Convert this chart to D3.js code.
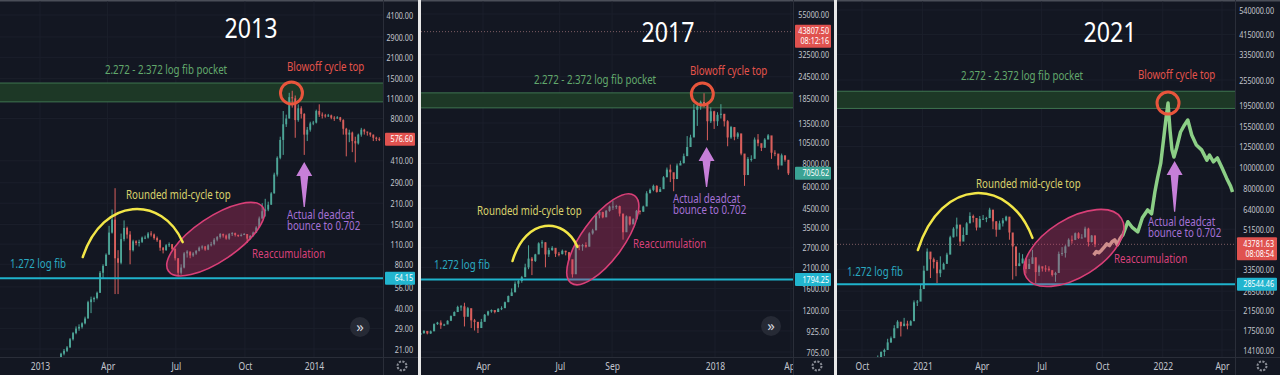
<!DOCTYPE html>
<html><head><meta charset="utf-8">
<script src="https://cdn.jsdelivr.net/npm/d3@7/dist/d3.min.js"></script>
<style>html,body{margin:0;padding:0;background:#131722;overflow:hidden}svg{display:block}</style>
</head><body>
<svg id="chart" width="1280" height="375"></svg>
<script>
// ================= DATA =================
// ---- 2013 cycle (4-day candles starting 2013-01-25) ----
const p1Start = "2013-01-25", p1StepDays = 4, p1FirstOpen = 17;
const p1Close = [17.5,19.5,20.4,21.5,24.5,27,29,29.8,31.5,34,
 44,46,47,51,70,78,93,132,162,88,
 82,119,142,128,100,115,112,114,122,122,
 130,128,121,117,104,100,108,110,102,88,
 70,76,95,98,92,95,99,104,106,101,
 108,110,118,123,129,126,120,129,131,127,
 126,127,129,120,125,132,143,165,185,190,
 205,245,330,430,570,730,800,1120,1100,780,
 940,860,620,670,740,750,900,850,840,830,
 840,810,800,815,780,680,620,640,560,540,
 620,670,650,640,620,590,580,577];
const p1High = [18,19.8,21,22,25,27.5,30,31,32,35,
 45,48,48,52,72,80,95,147,190,266,
 100,130,160,145,135,118,117,118,124,126,
 133,135,130,124,118,105,110,113,110,103,
 88,80,97,100,96,97,100,106,108,107,
 110,114,121,125,131,130,128,131,133,132,
 128,130,131,129,127,134,146,170,210,225,
 215,250,340,440,600,900,850,1200,1240,1150,
 1000,970,870,700,760,770,920,1000,880,860,
 860,850,830,830,820,790,690,670,650,600,
 630,690,680,650,640,620,600,595];
const p1Low = [16.5,17.3,19,20,21.5,24,26.5,28,29,31,
 34,37,44,46,51,64,78,95,130,50,
 50,80,115,120,80,98,108,106,112,119,
 120,124,118,114,99,95,99,105,100,85,
 66,68,75,89,88,90,93,98,101,99,
 100,106,108,115,120,122,118,118,125,124,
 123,124,127,112,118,124,131,142,164,170,
 185,205,245,320,420,450,700,800,950,590,
 760,800,450,560,650,720,740,820,800,810,
 820,790,770,795,760,620,440,550,470,400,
 530,600,620,610,600,560,560,560];
const p1PriceTicks = [4100,2900,2100,1500,1100,800,410,290,210,150,110,80,56,40,29,21];
const p1TimeTicks = ["2013-01-01","2013-04-01","2013-07-01","2013-10-01","2014-01-01"];
const p1TimeLabels = ["2013","Apr","Jul","Oct","2014"];
const p1FibPocket = [1040, 1400];
const p1FibLine = 64.15;
const p1LastPrice = 576.60;

// ---- 2017 cycle (4-day candles starting 2017-01-17) ----
const p2Start = "2017-01-17", p2StepDays = 4, p2FirstOpen = 880;
const p2Close = [900,925,895,920,1010,1030,995,1005,1055,1120,
 1180,1260,1270,1110,1240,1060,1040,960,1040,1140,
 1190,1210,1180,1230,1240,1340,1450,1520,1700,1760,
 1850,2100,2350,2280,2480,2860,2900,2480,2620,2700,
 2500,2490,2600,2550,2330,1920,2800,2750,2800,2740,
 3250,3380,4100,4280,4000,4350,4600,4600,4620,4200,
 3300,4050,3650,3900,4350,4300,4600,5450,5700,6000,
 5550,5750,6700,7400,7150,6550,7800,8050,8800,9900,
 11200,16000,16700,17700,17100,13800,15700,13800,15000,15200,
 13800,11200,12800,11300,11800,9100,6900,8500,8500,10900,
 10400,9800,10900,11500,9200,9100,7800,8900,8400,7050];
const p2High = [910,935,925,930,1020,1040,1060,1015,1060,1130,
 1190,1280,1290,1330,1260,1150,1080,1000,1080,1150,
 1200,1220,1210,1240,1270,1350,1460,1600,1750,1800,
 1880,2200,2790,2400,2500,2900,2980,2900,2700,2760,
 2650,2560,2640,2600,2560,2250,2900,2820,2840,2900,
 3300,3450,4200,4400,4300,4400,4650,4950,4700,4650,
 4000,4100,4000,3950,4400,4380,4650,5600,5800,6100,
 6050,5900,6800,7600,7900,6700,8000,8300,9100,11400,
 11600,17200,17400,18000,19800,17000,16500,15800,15500,17200,
 15000,14000,13000,12800,12000,10300,8400,8700,8900,11200,
 11700,10000,11100,11700,10700,9500,8600,9100,8800,8000];
const p2Low = [880,890,885,890,950,1000,950,985,1030,1050,
 1130,1180,1200,980,1180,960,930,900,1010,1060,
 1120,1170,1160,1190,1210,1260,1340,1460,1550,1620,
 1720,1900,2050,1900,2250,2500,2700,2100,2400,2600,
 2400,2420,2480,2450,2300,1840,2250,2620,2600,2700,
 2750,3200,3500,3950,3950,4100,4300,4400,4450,4050,
 3000,3600,3600,3700,3900,4150,4300,4800,5550,5600,
 5500,5700,6100,6900,6300,5600,6900,7900,8000,9000,
 10000,11500,13000,16000,16500,10800,13500,12500,13000,14300,
 12900,10000,11000,10800,11000,8900,6000,7600,8200,9500,
 10000,9400,10300,11000,8500,8800,7400,8300,8200,6900];
const p2PriceTicks = [55000,32500,24500,18500,13500,10500,8000,6000,4500,3500,2700,2100,1600,1200,925,705];
const p2TimeTicks = ["2017-04-01","2017-07-01","2017-09-01","2018-01-01","2018-04-01"];
const p2TimeLabels = ["Apr","Jul","Sep","2018","Apr"];
const p2FibPocket = [16400, 19900];
const p2FibLine = 1794.25;
const p2LastPrice = 7050.62;
const p2LivePrice = 43807.50;

// ---- 2021 cycle (5-day candles starting 2020-10-25) + fractal projection ----
const p3Start = "2020-10-25", p3StepDays = 5, p3FirstOpen = 12900;
const p3Close = [13000,13800,14100,15300,16000,17800,19100,18200,18700,18300,
 19200,23500,23700,27100,33000,40500,37300,36200,32100,33400,
 35500,39200,47200,51800,54100,45100,48400,54800,59300,58100,
 52400,57500,57600,58000,63500,56000,51200,54800,56600,58900,
 49700,42800,34700,35700,37600,33600,35500,38100,32500,34600,
 33800,33700,33200,31500,32200,39500,39900,42800,46000,45900,
 49300,46800,47100,51800,44900,48100,43800];
const p3High = [13300,13900,14300,15900,16300,18400,19400,19000,19900,19300,
 19400,24000,24100,28400,34800,41900,40000,38000,37000,38500,
 36000,40000,48000,52600,58300,50000,52500,55500,61700,60200,
 58000,59300,60000,58800,64800,63000,56200,56400,58000,59500,
 58000,46600,40800,40000,39400,37000,37400,41300,35000,35200,
 34000,35000,34600,32400,32600,40500,42500,43400,46700,48100,
 49700,49800,48800,52900,52300,48400,48200];
const p3Low = [12800,12900,13200,14800,15200,17200,18000,16300,18600,17600,
 18800,21000,22600,26000,28900,36000,30500,33800,28900,30800,
 33500,37500,44000,47200,47600,43000,46400,49300,57000,55400,
 50800,54800,57000,55500,59800,51500,47500,52000,53000,56000,
 46000,30000,31100,34600,35700,32000,34600,35700,28800,31200,
 32700,32600,32700,31000,29300,35000,38700,38000,42800,44100,
 45800,46400,46700,49600,42800,44700,42500];
const p3GhostDates = ["2021-09-18","2021-09-22","2021-09-26","2021-09-30","2021-10-04","2021-10-08",
 "2021-10-12","2021-10-16","2021-10-20","2021-10-24","2021-10-28","2021-11-01"];
const p3GhostValues = [39000,40500,40000,41100,42500,44000,43200,45000,45900,43500,46500,48400];
const p3ProjDates = ["2021-11-01","2021-11-09","2021-11-16","2021-11-24","2021-12-01","2021-12-09",
 "2021-12-15","2021-12-20","2021-12-24","2021-12-29","2022-01-03","2022-01-06","2022-01-09",
 "2022-01-12","2022-01-15","2022-01-18","2022-01-22","2022-01-28","2022-02-03","2022-02-08",
 "2022-02-14","2022-02-21","2022-03-01","2022-03-09","2022-03-13","2022-03-19","2022-03-25",
 "2022-04-01","2022-04-08","2022-04-14","2022-04-17"];
const p3ProjValues = [48000,55800,52300,50000,58200,63300,60700,76700,89000,104800,141400,169600,199000,
 149000,120500,111600,123000,146000,157400,166000,141400,127000,120500,108000,114000,106000,110500,
 99400,89000,81700,76700];
const p3PriceTicks = [540000,415000,335000,255000,195000,155000,125000,100000,80000,64000,51500,33500,26500,21500,17500,14100];
const p3TimeTicks = ["2020-10-01","2021-01-01","2021-04-01","2021-07-01","2021-10-01","2022-01-01","2022-04-01"];
const p3TimeLabels = ["Oct","2021","Apr","Jul","Oct","2022","Apr"];
const p3FibPocket = [188000, 226000];
const p3FibLine = 28544.46;
const p3LivePrice = 43781.63;

// ================= STYLE =================
const BG = "#131722", GRID = "#1b1f2b", AXISLINE = "#2a2e39", AXTXT = "#c3c6ce";
const UP = "#4da597", DN = "#d95f5c";
const RED = "#e0524f", CYAN = "#22b5cf", TEAL = "#3aa394";
const FONT = "'Noto Sans','Open Sans',sans-serif";
const parse = d3.utcParse("%Y-%m-%d");
const DAY = 864e5;
const svg = d3.select("#chart");
svg.append("rect").attr("width",1280).attr("height",375).attr("fill","#e8e8e8");

// multi-line label: lines stacked with tspans inside one text element
function label(g, x, y, lines, color, size, anchor, sx, lh){
  const t = g.append("text")
    .attr("transform",`translate(${x},${y}) scale(${sx||0.81},1)`)
    .attr("text-anchor",anchor||"start").attr("fill",color)
    .attr("font-size",size).attr("font-family",FONT);
  [].concat(lines).forEach((s,i)=>{
    t.append("tspan").attr("x",0).attr("y",i*(lh||size)).text(s);
  });
  return t;
}

const panels = [
 {id:"p1", left:0, right:418, plotLeft:0, plotRight:383, labelRight:413,
  xDom:["2013-01-01","2014-01-01"], xRng:[40,314], yDom:[21,4100], yRng:[349,15],
  start:p1Start, step:p1StepDays, open0:p1FirstOpen, close:p1Close, high:p1High, low:p1Low,
  priceTicks:p1PriceTicks, timeTicks:p1TimeTicks, timeLabels:p1TimeLabels,
  fib:p1FibPocket, fibLine:p1FibLine,
  boxes:[{v:p1LastPrice, lines:[p1LastPrice.toFixed(2)], color:RED},
         {v:p1FibLine, lines:[p1FibLine.toFixed(2)], color:CYAN}],
  dotted:null, title:"2013", titleX:251, titleY:38,
  circle:["2013-12-02",1196], arrow:["2013-12-19",402,198],
  arc:[["2013-02-27",89.7],["2013-05-04",191],["2013-07-10",113.6]],
  ellipse:["2013-08-23",119,57,22,-34],
  texts:{pocket:[166,74], blow:[287,71], dead:[287,219], round:[126,199], reacc:[252,258], fib:[10,268]},
  ff:[360,327], gear:[402,366]},
 {id:"p2", left:421, right:834, plotLeft:421, plotRight:793, labelRight:829,
  xDom:["2017-04-01","2018-01-01"], xRng:[483,715], yDom:[705,55000], yRng:[352,14],
  start:p2Start, step:p2StepDays, open0:p2FirstOpen, close:p2Close, high:p2High, low:p2Low,
  priceTicks:p2PriceTicks, timeTicks:p2TimeTicks, timeLabels:p2TimeLabels,
  fib:p2FibPocket, fibLine:p2FibLine,
  boxes:[{v:p2LivePrice, lines:[p2LivePrice.toFixed(2),"08:12:16"], color:RED},
         {v:p2LastPrice, lines:[p2LastPrice.toFixed(2)], color:TEAL},
         {v:p2FibLine, lines:[p2FibLine.toFixed(2)], color:CYAN}],
  dotted:p2LivePrice, title:"2017", titleX:668, titleY:42,
  circle:["2017-12-17",19610], arrow:["2017-12-22",9900,5920],
  arc:[["2017-05-06",2279],["2017-06-15",3580],["2017-07-22",2730]],
  ellipse:["2017-08-21",3013,54,21,-54],
  texts:{pocket:[595,84], blow:[690,75], dead:[673,203], round:[477,215], reacc:[633,248], fib:[434,269]},
  ff:[771,326], gear:[817,366]},
 {id:"p3", left:837, right:1280, plotLeft:837, plotRight:1235, labelRight:1274,
  xDom:["2020-10-01","2022-04-01"], xRng:[862,1222], yDom:[14100,540000], yRng:[350,10],
  start:p3Start, step:p3StepDays, open0:p3FirstOpen, close:p3Close, high:p3High, low:p3Low,
  priceTicks:p3PriceTicks, timeTicks:p3TimeTicks, timeLabels:p3TimeLabels,
  fib:p3FibPocket, fibLine:p3FibLine,
  boxes:[{v:p3LivePrice, lines:[p3LivePrice.toFixed(2),"08:08:54"], color:RED},
         {v:p3FibLine, lines:[p3FibLine.toFixed(2)], color:CYAN}],
  dotted:p3LivePrice, title:"2021", titleX:1110, titleY:42,
  circle:["2022-01-09",199000], arrow:["2022-01-19",107000,62000],
  arc:[["2020-12-25",41200],["2021-03-26",75800],["2021-06-17",46900]],
  ellipse:["2021-08-19",42100,56,29,-32],
  ghost:{dates:p3GhostDates, values:p3GhostValues}, proj:{dates:p3ProjDates, values:p3ProjValues},
  texts:{pocket:[1022,80], blow:[1138,79], dead:[1148,226], round:[976,188], reacc:[1114,263], fib:[847,276]},
  ff:null, gear:[1262,366]}
];

function drawPanel(p){
  const g = svg.append("g");
  g.append("rect").attr("x",p.left).attr("y",0).attr("width",p.right-p.left).attr("height",375).attr("fill",BG);
  g.append("rect").attr("x",p.left).attr("y",0).attr("width",p.right-p.left).attr("height",1.5).attr("fill","#4a4e58");
  const x = d3.scaleUtc().domain(p.xDom.map(parse)).range(p.xRng);
  const y = d3.scaleLog().domain(p.yDom).range(p.yRng);
  const clipId = "clip_"+p.id;
  svg.append("clipPath").attr("id",clipId).append("rect")
    .attr("x",p.plotLeft).attr("y",1.5).attr("width",p.plotRight-p.plotLeft).attr("height",355.5);
  const pg = g.append("g").attr("clip-path",`url(#${clipId})`);

  // grid
  pg.selectAll("line.hg").data(p.priceTicks).join("line").attr("class","hg")
    .attr("x1",p.plotLeft).attr("x2",p.plotRight).attr("y1",d=>y(d)).attr("y2",d=>y(d))
    .attr("stroke",GRID).attr("stroke-width",1);
  pg.selectAll("line.vg").data(p.timeTicks.map(parse)).join("line").attr("class","vg")
    .attr("x1",d=>x(d)).attr("x2",d=>x(d)).attr("y1",0).attr("y2",357)
    .attr("stroke",GRID).attr("stroke-width",1);

  // fib pocket
  pg.append("rect").attr("x",p.plotLeft).attr("width",p.plotRight-p.plotLeft)
    .attr("y",y(p.fib[1])).attr("height",y(p.fib[0])-y(p.fib[1]))
    .attr("fill","#1d3826");
  pg.selectAll("line.fb").data(p.fib).join("line").attr("class","fb")
    .attr("x1",p.plotLeft).attr("x2",p.plotRight).attr("y1",d=>y(d)).attr("y2",d=>y(d))
    .attr("stroke","#3f7550").attr("stroke-width",1);

  // live-price dotted line
  if(p.dotted){
    pg.append("line").attr("x1",p.plotLeft).attr("x2",p.plotRight)
      .attr("y1",y(p.dotted)).attr("y2",y(p.dotted))
      .attr("stroke","#7d5c63").attr("stroke-width",1).attr("stroke-dasharray","1,2");
  }

  // candles
  const t0 = parse(p.start);
  const data = p.close.map((c,i)=>({d:new Date(+t0+i*p.step*DAY), o:i?p.close[i-1]:p.open0, c, h:p.high[i], l:p.low[i]}));
  const bw = Math.max(1.5, (x(new Date(+t0+p.step*DAY))-x(t0))*0.62);
  const cg = pg.append("g");
  cg.selectAll("line.wk").data(data).join("line").attr("class","wk")
    .attr("x1",d=>x(d.d)).attr("x2",d=>x(d.d)).attr("y1",d=>y(d.h)).attr("y2",d=>y(d.l))
    .attr("stroke",d=>d.c>=d.o?UP:DN).attr("stroke-width",1);
  cg.selectAll("rect.bd").data(data).join("rect").attr("class","bd")
    .attr("x",d=>x(d.d)-bw/2).attr("width",bw)
    .attr("y",d=>y(Math.max(d.o,d.c))).attr("height",d=>Math.max(1,Math.abs(y(d.o)-y(d.c))))
    .attr("fill",d=>d.c>=d.o?UP:DN);

  // projection (2021 only)
  const ln = d3.line().x(d=>x(d[0])).y(d=>y(d[1]));
  if(p.ghost){
    pg.append("path").attr("d",ln(p.ghost.dates.map((d,i)=>[parse(d),p.ghost.values[i]])))
      .attr("fill","none").attr("stroke","#cdbb9b").attr("stroke-width",3.5).attr("stroke-linejoin","round");
  }
  if(p.proj){
    pg.append("path").attr("d",ln(p.proj.dates.map((d,i)=>[parse(d),p.proj.values[i]])))
      .attr("fill","none").attr("stroke","#8ccf86").attr("stroke-width",3.5).attr("stroke-linejoin","round");
  }

  // 1.272 fib line
  pg.append("line").attr("x1",p.plotLeft).attr("x2",p.plotRight)
    .attr("y1",y(p.fibLine)).attr("y2",y(p.fibLine)).attr("stroke","#1fb3cc").attr("stroke-width",2);

  // annotations
  const ag = pg.append("g");
  const [ed,ev,erx,ery,erot] = p.ellipse;
  ag.append("ellipse").attr("transform",`translate(${x(parse(ed))},${y(ev)}) rotate(${erot})`)
    .attr("rx",erx).attr("ry",ery).attr("fill","rgba(214,51,108,0.33)")
    .attr("stroke","#d93f77").attr("stroke-width",1.6);
  const a = p.arc.map(d=>[x(parse(d[0])),y(d[1])]);
  const yc = (8*a[1][1]-a[0][1]-a[2][1])/6;
  const w = a[2][0]-a[0][0];
  ag.append("path").attr("d",`M${a[0][0]},${a[0][1]} C${a[0][0]+w*0.2},${yc} ${a[2][0]-w*0.2},${yc} ${a[2][0]},${a[2][1]}`)
    .attr("fill","none").attr("stroke","#f2e648").attr("stroke-width",2.5).attr("stroke-linecap","round");
  ag.append("circle").attr("cx",x(parse(p.circle[0]))).attr("cy",y(p.circle[1])).attr("r",11)
    .attr("fill","none").attr("stroke","#e8553c").attr("stroke-width",3);
  const ax = x(parse(p.arrow[0])), at = y(p.arrow[1]), ab = y(p.arrow[2]);
  ag.append("path").attr("d",`M${ax},${at} L${ax+8},${at+14} L${ax+4},${at+14} L${ax+0.6},${ab} L${ax-0.6},${ab} L${ax-4},${at+14} L${ax-8},${at+14} Z`)
    .attr("fill","#c77fd9");

  // texts
  const t = p.texts;
  label(g, t.pocket[0], t.pocket[1], "2.272 - 2.372 log fib pocket", "#62a86c", 12, "middle");
  label(g, t.blow[0], t.blow[1], "Blowoff cycle top", "#e5534b", 12);
  label(g, t.dead[0], t.dead[1], ["Actual deadcat","bounce to 0.702"], "#a571d6", 12, "start", 0.81, 10.5);
  label(g, t.round[0], t.round[1], "Rounded mid-cycle top", "#d9d26c", 12);
  label(g, t.reacc[0], t.reacc[1], "Reaccumulation", "#d9417a", 12);
  label(g, t.fib[0], t.fib[1], "1.272 log fib", "#2aa9c0", 12);
  label(g, p.titleX, p.titleY, p.title, "#ffffff", 27, "middle", 0.86);

  // price axis
  g.append("line").attr("x1",p.plotRight+0.5).attr("x2",p.plotRight+0.5).attr("y1",0).attr("y2",375)
    .attr("stroke",AXISLINE);
  const ya = g.append("g").attr("transform",`translate(${p.labelRight},0)`)
    .call(d3.axisRight(y).tickValues(p.priceTicks).tickFormat(d=>d.toFixed(2)).tickSize(0).tickPadding(0));
  ya.select(".domain").remove();
  ya.selectAll("text").attr("x",0).attr("dy","0.35em").attr("text-anchor","end")
    .attr("transform","scale(0.8,1)").attr("fill",AXTXT).attr("font-size",9).attr("font-family",FONT);

  // price boxes
  p.boxes.forEach(b=>{
    const yy = y(b.v), two = b.lines.length>1;
    const top = two ? yy-7 : yy-6.5, h = two ? 23 : 13;
    g.append("rect").attr("x",p.plotRight+2).attr("y",top).attr("width",p.right-p.plotRight-5).attr("height",h)
      .attr("fill",b.color).attr("rx",1);
    label(g, p.labelRight, top+9.5, b.lines, "#ffffff", 9, "end", 0.8, 10);
  });

  // time axis
  g.append("line").attr("x1",p.left).attr("x2",p.right).attr("y1",357.5).attr("y2",357.5).attr("stroke",AXISLINE);
  const tclip = "tclip_"+p.id;
  svg.append("clipPath").attr("id",tclip).append("rect").attr("x",p.plotLeft).attr("y",358).attr("width",p.plotRight-p.plotLeft).attr("height",17);
  const xa = g.append("g").attr("clip-path",`url(#${tclip})`).append("g").attr("transform","translate(0,370)")
    .call(d3.axisBottom(x).tickValues(p.timeTicks.map(parse)).tickFormat((d,i)=>p.timeLabels[i]).tickSize(0).tickPadding(0));
  xa.select(".domain").remove();
  xa.selectAll("text").attr("y",0).attr("dy",0).attr("transform","scale(0.85,1)")
    .attr("fill",AXTXT).attr("font-size",10).attr("font-family",FONT);

  // UI chrome: scroll button and settings gear
  if(p.ff){
    g.append("circle").attr("cx",p.ff[0]).attr("cy",p.ff[1]).attr("r",10).attr("fill","#262a35");
    label(g, p.ff[0], p.ff[1]+5, "»", "#d1d4dc", 15, "middle", 1);
  }
  g.append("circle").attr("cx",p.gear[0]).attr("cy",p.gear[1]).attr("r",4.5)
    .attr("fill","none").attr("stroke","#8a8d96").attr("stroke-width",2).attr("stroke-dasharray","2.2,1.3");
  g.append("circle").attr("cx",p.gear[0]).attr("cy",p.gear[1]).attr("r",2).attr("fill",BG);
}

panels.forEach(drawPanel);
</script>
</body></html>
